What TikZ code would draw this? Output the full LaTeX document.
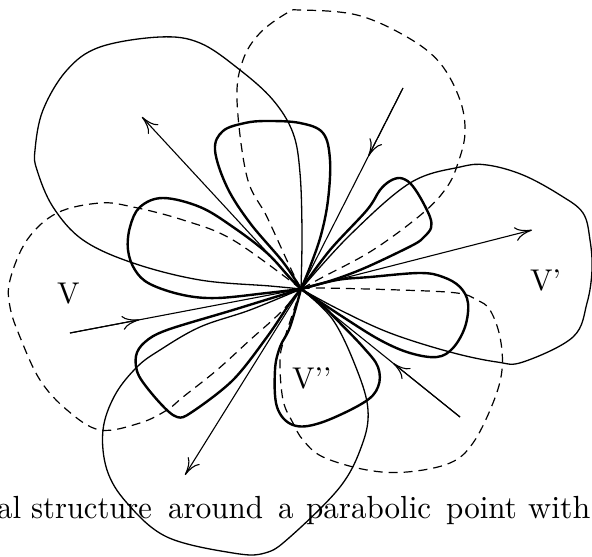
\documentclass[tikz,border=0pt]{standalone}
\usetikzlibrary{arrows.meta,calc}
\begin{document}
\begin{tikzpicture}[x=1pt,y=-1pt,
  petal/.style={line width=2.4pt, line join=round},
  bigloop/.style={line width=1.3pt},
  dashloop/.style={line width=1.2pt, dash pattern=on 9pt off 6pt},
  ray/.style={line width=1.1pt},
  tipped/.style={-{Computer Modern Rightarrow[length=17pt,width=14pt]}},
  lab/.style={inner sep=0pt, anchor=base west, font=\fontsize{10}{12}\selectfont}]
\useasboundingbox (0,0) rectangle (592,557);
\coordinate (O) at (301,289);

% thick petals
\draw[petal] plot[smooth, tension=0.6] coordinates {(O) (283,262) (250,223) (227,187) (215,150) (223,131) (245,123) (267,121) (300,123) (323,133) (330,160) (328,200) (321,235) (310,267) (O)};
\draw[petal] plot[smooth, tension=0.6] coordinates {(O) (267,293) (217,298) (183,295) (150,284) (135,270) (128,250) (130,227) (140,207) (163,198) (200,207) (233,227) (267,253) (290,278) (O)};
\draw[petal] plot[smooth, tension=0.55] coordinates {(O) (330,250) (367,210) (380,190) (390,181) (400,178) (410,183) (420,197) (430,217) (431,228) (424,237) (413,245) (367,267) (333,280) (O)};
\draw[petal] plot[smooth, tension=0.6] coordinates {(O) (337,280) (370,277) (420,273) (443,277) (460,287) (468,303) (465,327) (453,348) (437,357) (410,353) (380,340) (343,317) (O)};
\draw[petal] plot[smooth, tension=0.6] coordinates {(O) (290,327) (280,347) (275,370) (277,407) (293,425) (320,423) (363,403) (378,387) (378,367) (363,347) (337,320) (320,303) (O)};
\draw[petal] plot[smooth, tension=0.55] coordinates {(O) (233,310) (167,330) (145,342) (136,356) (139,376) (160,403) (177,417) (192,412) (233,380) (267,337) (290,303) (O)};

% large thin loops
\draw[bigloop] plot[smooth, tension=0.6] coordinates {(O) (270,286) (200,280) (133,263) (83,240) (53,207) (37,170) (35,150) (43,110) (67,70) (100,47) (160,37) (200,43) (240,70) (273,100) (293,133) (300,173) (302,233) (O)};
\draw[bigloop] plot[smooth, tension=0.6] coordinates {(O) (350,235) (410,183) (460,167) (487,165) (523,175) (560,195) (583,213) (590,240) (592,270) (587,303) (573,337) (523,362) (497,362) (450,352) (390,333) (340,310) (O)};
\draw[bigloop] plot[smooth, tension=0.6] coordinates {(O) (250,310) (200,327) (160,350) (137,367) (115,395) (103,430) (107,470) (127,503) (167,537) (233,553) (265,553) (290,537) (340,487) (362,445) (368,410) (357,370) (333,320) (O)};

% dashed loops
\draw[dashloop] plot[smooth, tension=0.6] coordinates {(O) (290,267) (267,217) (247,177) (237,100) (243,60) (260,33) (287,13) (300,10) (357,15) (407,37) (440,63) (460,100) (465,133) (458,163) (447,187) (423,213) (373,250) (323,277) (O)};
\draw[dashloop] plot[smooth, tension=0.6] coordinates {(O) (233,240) (183,220) (133,207) (100,203) (57,213) (27,240) (10,280) (10,307) (20,337) (40,380) (67,410) (100,430) (140,423) (167,410) (183,397) (217,370) (250,340) (280,313) (O)};
\draw[dashloop] plot[smooth, tension=0.6] coordinates {(O) (320,288) (400,290) (457,293) (477,300) (490,310) (500,337) (502,370) (493,403) (473,443) (450,463) (407,472) (367,470) (323,457) (303,440) (293,423) (283,400) (280,360) (285,337) (O)};

% rays
\coordinate (r1) at (142,117);
\coordinate (r2) at (403,88);
\coordinate (r3) at (532,230);
\coordinate (r4) at (460,417);
\coordinate (r5) at (185,475);
\coordinate (r6) at (70,333);
\draw[ray,tipped] (O) -- (r1);
\draw[ray] (r2) -- (O);
\draw[ray,tipped] (r2) -- ($(r2)!0.34!(O)$);
\draw[ray,tipped] (O) -- (r3);
\draw[ray] (r4) -- (O);
\draw[ray,tipped] (r4) -- ($(r4)!0.42!(O)$);
\draw[ray,tipped] (O) -- (r5);
\draw[ray] (r6) -- (O);
\draw[ray,tipped] (r6) -- ($(r6)!0.30!(O)$);

% labels
\node[lab] (lV) at (57,303) {\scalebox{3}{V}};
\node[lab] (lVp) at (530,290) {\scalebox{3}{V'}};
\node[lab] (lVpp) at (292,388) {\scalebox{3}{V'{}'}};

% caption fragment
\node[lab] (w1) at (-3,518) {\scalebox{3.1}[3.2]{al}};
\node[lab] (w2) at (31,518) {\scalebox{3.05}[3.2]{structure}};
\node[lab] (w3) at (168,518) {\scalebox{3.1}[3.2]{around}};
\node[lab] (w4) at (278,518) {\scalebox{3.1}[3.2]{a}};
\node[lab] (w5) at (306,518) {\scalebox{3.1}[3.2]{parabolic}};
\node[lab] (w6) at (446,518) {\scalebox{3.1}[3.2]{point}};
\node[lab] (w7) at (528,518) {\scalebox{3.2}[3.2]{with}};
\end{tikzpicture}
\end{document}
